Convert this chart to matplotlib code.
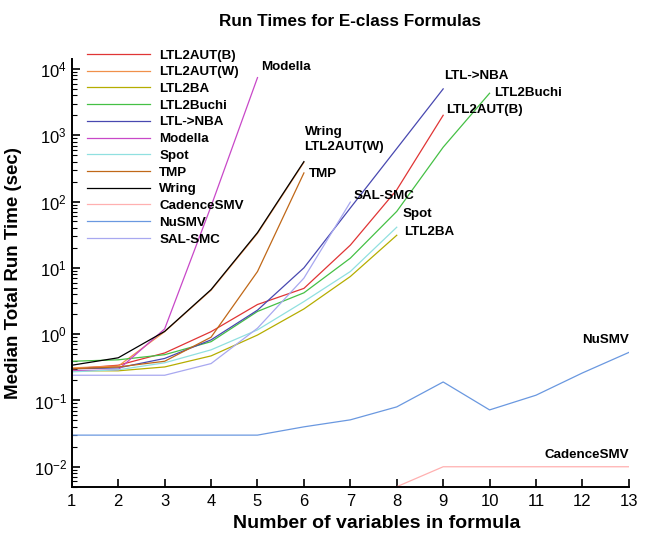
# %% Imports

import matplotlib

matplotlib.use("Agg")
import matplotlib.pyplot as plt
from matplotlib.ticker import FixedLocator, LogLocator, NullFormatter

plt.rcParams["font.family"] = ["Liberation Sans", "DejaVu Sans"]

# %% Data (median run time in seconds)

n_vars = list(range(1, 14))

ltl2aut_b = [0.30, 0.34, 0.52, 1.09, 2.8, 4.9, 22, 150, 2000]
ltl2aut_w = [0.31, 0.33, 1.09, 4.6, 33, 390]
ltl2ba = [0.28, 0.28, 0.32, 0.47, 0.97, 2.4, 7.4, 31]
ltl2buchi = [0.39, 0.41, 0.49, 0.77, 2.2, 4.2, 14, 71, 660, 4300]
ltl_nba = [0.30, 0.31, 0.43, 0.82, 2.3, 10, 80, 630, 5000]
modella = [0.28, 0.29, 1.2, 85, 7400]
spot = [0.27, 0.29, 0.37, 0.58, 1.16, 3.1, 8.8, 41]
tmp = [0.30, 0.32, 0.39, 0.9, 8.8, 270]
wring = [0.34, 0.44, 1.1, 4.7, 34, 400]
cadence_x = [8, 9, 10, 11, 12, 13]
cadence = [0.005, 0.01, 0.01, 0.01, 0.01, 0.01]
nusmv = [0.03, 0.03, 0.03, 0.03, 0.03, 0.04, 0.051, 0.08, 0.19, 0.072, 0.12, 0.26, 0.53]
sal_smc = [0.24, 0.24, 0.24, 0.36, 1.23, 7, 98]

decades = [1e-2, 1e-1, 1e0, 1e1, 1e2, 1e3, 1e4]

# %% Plot

series = [
    ("LTL2AUT(B)", n_vars, ltl2aut_b, "#e03535"),
    ("LTL2AUT(W)", n_vars, ltl2aut_w, "#f0904a"),
    ("LTL2BA", n_vars, ltl2ba, "#b5ad00"),
    ("LTL2Buchi", n_vars, ltl2buchi, "#45c045"),
    ("LTL->NBA", n_vars, ltl_nba, "#4848b0"),
    ("Modella", n_vars, modella, "#c848c8"),
    ("Spot", n_vars, spot, "#90e0e0"),
    ("TMP", n_vars, tmp, "#c06818"),
    ("Wring", n_vars, wring, "#000000"),
    ("CadenceSMV", cadence_x, cadence, "#ffb0b0"),
    ("NuSMV", n_vars, nusmv, "#6a98e0"),
    ("SAL-SMC", n_vars, sal_smc, "#a8a8f0"),
]

fig = plt.figure(figsize=(6.53, 5.35), dpi=100)
ax = fig.add_axes([0.110, 0.090, 0.853, 0.800])

for name, xs, ys, color in series:
    ax.plot(xs[: len(ys)], ys, color=color, lw=0.9, label=name)

# end-of-line labels
end_labels = [
    ("Modella", 5.08, 10**4.03, "left"),
    ("LTL->NBA", 9.02, 10**3.90, "left"),
    ("LTL2Buchi", 10.1, 10**3.64, "left"),
    ("LTL2AUT(B)", 9.06, 10**3.38, "left"),
    ("Wring", 6.03, 10**3.05, "left"),
    ("LTL2AUT(W)", 6.0, 10**2.83, "left"),
    ("TMP", 6.1, 10**2.42, "left"),
    ("SAL-SMC", 7.06, 10**2.09, "left"),
    ("Spot", 8.13, 10**1.81, "left"),
    ("LTL2BA", 8.15, 10**1.54, "left"),
    ("NuSMV", 13.0, 10**-0.09, "right"),
    ("CadenceSMV", 13.0, 10**-1.83, "right"),
]
for text, x, y, ha in end_labels:
    ax.text(x, y, text, ha=ha, va="center", fontsize=9.6, fontweight="bold")

ax.set_yscale("log")
ax.set_xlim(1, 13)
ax.set_ylim(10**-2.303, 10**4.152)
ax.set_xticks(n_vars)
ax.yaxis.set_major_locator(FixedLocator(decades))
ax.yaxis.set_minor_locator(LogLocator(base=10, subs=range(2, 10), numticks=20))
ax.yaxis.set_minor_formatter(NullFormatter())

ax.spines["top"].set_visible(False)
ax.spines["right"].set_visible(False)
ax.spines["left"].set_linewidth(1.4)
ax.spines["bottom"].set_linewidth(1.4)
ax.tick_params(axis="both", which="major", direction="in", length=6, width=1.2,
               labelsize=12)
ax.tick_params(axis="y", which="minor", direction="in", length=3.5, width=0.8)
ax.tick_params(axis="x", pad=5)

ax.set_xlabel("Number of variables in formula", fontsize=14, fontweight="bold")
ax.xaxis.set_label_coords(0.548, -0.065)
ax.set_ylabel("Median Total Run Time (sec)", fontsize=13.5, fontweight="bold")
ax.yaxis.set_label_coords(-0.09, 0.5)
ax.set_title("Run Times for E-class Formulas", fontsize=12.3, fontweight="bold",
             pad=24)

leg = ax.legend(loc="upper left", bbox_to_anchor=(0.018, 1.035), frameon=False,
                borderaxespad=0, fontsize=9.6, handlelength=4.7,
                handletextpad=0.7, labelspacing=0.33)
for t in leg.get_texts():
    t.set_fontweight("bold")

fig.savefig("out.png", dpi=100)
